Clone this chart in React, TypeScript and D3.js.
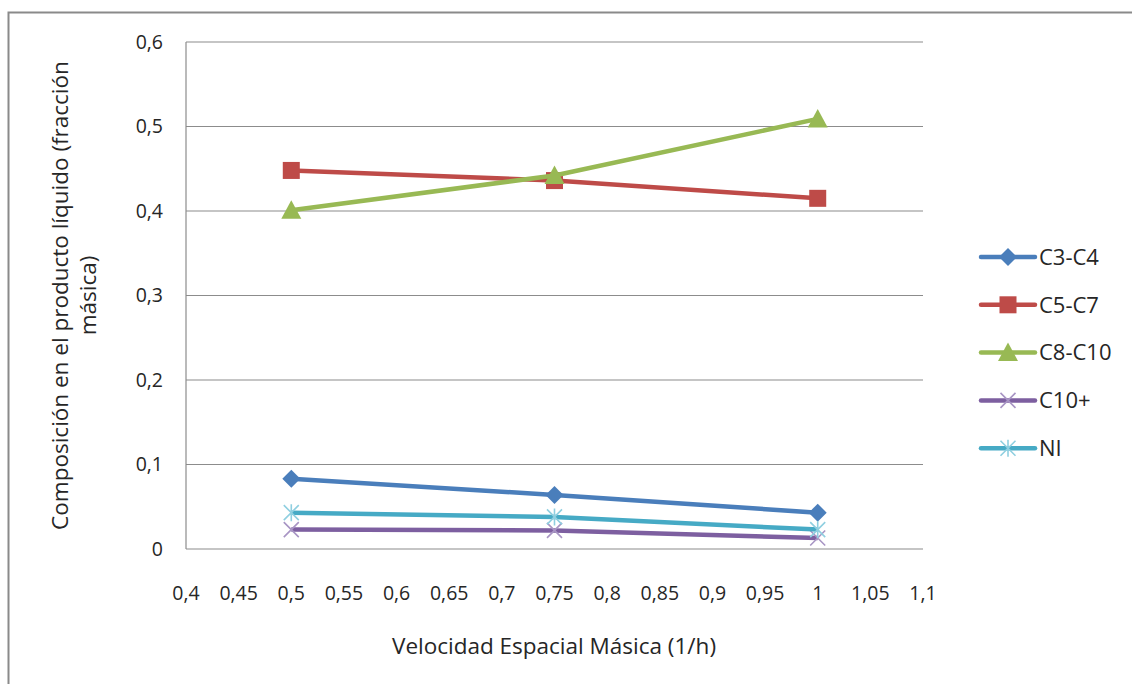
import React from "react";
import * as d3 from "d3";

// Velocidad espacial (1/h) and mass-fraction composition of the liquid product
const velocities = [0.5, 0.75, 1];
const c3c4 = [0.083, 0.064, 0.043];
const c5c7 = [0.448, 0.436, 0.415];
const c8c10 = [0.401, 0.442, 0.509];
const c10plus = [0.023, 0.022, 0.013];
const ni = [0.043, 0.038, 0.023];

const seriesNames = ["C3-C4", "C5-C7", "C8-C10", "C10+", "NI"];
const xTicks = [0.4, 0.45, 0.5, 0.55, 0.6, 0.65, 0.7, 0.75, 0.8, 0.85, 0.9, 0.95, 1, 1.05, 1.1];
const yTicks = [0, 0.1, 0.2, 0.3, 0.4, 0.5, 0.6];

type Marker = "diamond" | "square" | "triangle" | "x" | "star";

const series: { name: string; values: number[]; color: string; markColor: string; marker: Marker }[] = [
  { name: seriesNames[0], values: c3c4, color: "#4a7ebb", markColor: "#4a7ebb", marker: "diamond" },
  { name: seriesNames[1], values: c5c7, color: "#be4b48", markColor: "#be4b48", marker: "square" },
  { name: seriesNames[2], values: c8c10, color: "#98b954", markColor: "#98b954", marker: "triangle" },
  { name: seriesNames[3], values: c10plus, color: "#7d5fa0", markColor: "#a895c4", marker: "x" },
  { name: seriesNames[4], values: ni, color: "#46aac5", markColor: "#8fcfe0", marker: "star" },
];

const FONT = "'Open Sans', Lato, sans-serif";
const comma = (v: number) => String(+v.toFixed(2)).replace(".", ",");

function MarkerShape({ kind, cx, cy, color }: { kind: Marker; cx: number; cy: number; color: string }) {
  if (kind === "diamond") {
    const r = 9;
    return <path d={`M${cx},${cy - r}L${cx + r},${cy}L${cx},${cy + r}L${cx - r},${cy}Z`} fill={color} />;
  }
  if (kind === "square") {
    const s = 17;
    return <rect x={cx - s / 2} y={cy - s / 2} width={s} height={s} fill={color} />;
  }
  if (kind === "triangle") {
    const r = 10;
    return <path d={`M${cx},${cy - r}L${cx + r},${cy + r * 0.85}L${cx - r},${cy + r * 0.85}Z`} fill={color} />;
  }
  const r = 7.5;
  const xPath = `M${cx - r},${cy - r}L${cx + r},${cy + r}M${cx - r},${cy + r}L${cx + r},${cy - r}`;
  const d = kind === "star" ? `${xPath}M${cx},${cy - r - 1}L${cx},${cy + r + 1}` : xPath;
  return <path d={d} stroke={color} strokeWidth={1.6} fill="none" />;
}

export default function App() {
  const W = 1132;
  const H = 684;
  const left = 186;
  const right = 923;
  const top = 42;
  const bottom = 549;

  const x = d3.scaleLinear().domain([0.4, 1.1]).range([left, right]);
  const y = d3.scaleLinear().domain([0, 0.6]).range([bottom, top]);

  const line = d3
    .line<[number, number]>()
    .x((d) => x(d[0]))
    .y((d) => y(d[1]));

  const legendX = 981;
  const legendY0 = 257;
  const legendStep = 47.8;

  return (
    <svg
      width={W}
      height={H}
      style={{ position: "absolute", left: 0, top: 0, background: "#fff" }}
      fontFamily={FONT}
    >
      <rect x={0} y={0} width={W} height={H} fill="#fff" />
      {/* chart frame, running off the right and bottom edges */}
      <rect x={8.5} y={12.5} width={1300} height={900} fill="none" stroke="#8a8a8a" strokeWidth={2} />

      {/* horizontal gridlines */}
      {yTicks.map((t) => (
        <line key={t} x1={left} x2={right} y1={y(t)} y2={y(t)} stroke="#8c8c8c" strokeWidth={1.2} />
      ))}
      {/* vertical axis line */}
      <line x1={left} x2={left} y1={top} y2={bottom} stroke="#8c8c8c" strokeWidth={1.2} />

      {/* y tick labels */}
      {yTicks.map((t) => (
        <text key={t} x={163} y={y(t)} dy="0.35em" textAnchor="end" fontSize={19.5} fill="#262626">
          {comma(t)}
        </text>
      ))}
      {/* x tick labels */}
      {xTicks.map((t) => (
        <text key={t} x={x(t)} y={593} dy="0.35em" textAnchor="middle" fontSize={19.5} fill="#262626">
          {comma(t)}
        </text>
      ))}

      {/* axis titles */}
      <text x={554} y={646} dy="0.35em" textAnchor="middle" fontSize={22.5} fill="#262626">
        Velocidad Espacial Másica (1/h)
      </text>
      <g transform={`translate(60, ${(top + bottom) / 2}) rotate(-90)`}>
        <text x={0} y={0} dy="0.35em" textAnchor="middle" fontSize={22.5} fill="#262626">
          Composición en el producto líquido (fracción
        </text>
        <text x={0} y={28} dy="0.35em" textAnchor="middle" fontSize={22.5} fill="#262626">
          másica)
        </text>
      </g>

      {/* series lines and markers */}
      {series.map((s) => {
        const pts = velocities.map((v, i) => [v, s.values[i]] as [number, number]);
        return (
          <g key={s.name}>
            <path d={line(pts) ?? ""} fill="none" stroke={s.color} strokeWidth={4.5} strokeLinejoin="round" />
            {pts.map((p, i) => (
              <MarkerShape key={i} kind={s.marker} cx={x(p[0])} cy={y(p[1])} color={s.markColor} />
            ))}
          </g>
        );
      })}

      {/* legend */}
      {series.map((s, i) => {
        const ly = legendY0 + i * legendStep;
        return (
          <g key={s.name}>
            <line x1={legendX} x2={legendX + 54} y1={ly} y2={ly} stroke={s.color} strokeWidth={4.5} strokeLinecap="round" />
            <MarkerShape kind={s.marker} cx={legendX + 27} cy={ly} color={s.markColor} />
            <text x={legendX + 58} y={ly} dy="0.35em" fontSize={22} fill="#262626">
              {s.name}
            </text>
          </g>
        );
      })}
    </svg>
  );
}
